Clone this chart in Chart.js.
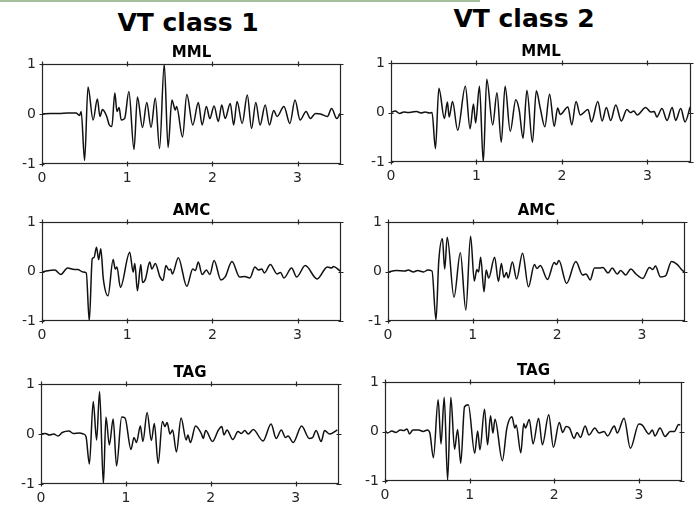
<!DOCTYPE html>
<html lang="en">
<head>
  <meta charset="UTF-8">
  <title>VT class 1 / VT class 2</title>
  <script src="https://cdn.jsdelivr.net/npm/chart.js"></script>
  <style>
    body { margin: 0; background: #fff; width: 699px; height: 508px; overflow: hidden; position: relative; font-family: "DejaVu Sans", sans-serif; }
    .topbar { position: absolute; left: 0; top: 0; width: 480px; height: 2px; background: #a5bf9b; }
    .col-title { position: absolute; font-size: 25px; font-weight: bold; line-height: 1; color: #000; white-space: nowrap; transform: translateX(-50%); }
    canvas { position: absolute; }
  </style>
</head>
<body>
  <div class="topbar"></div>
  <div class="col-title" id="title1" style="left:188px; top:10px;"></div>
  <div class="col-title" id="title2" style="left:524px; top:6px;"></div>

  <canvas id="p1" width="349" height="148" style="left:0px; top:40px;"></canvas>
  <canvas id="p2" width="350" height="147" style="left:349px; top:39px;"></canvas>
  <canvas id="p3" width="349" height="147" style="left:0px; top:198px;"></canvas>
  <canvas id="p4" width="347" height="147" style="left:346px; top:198px;"></canvas>
  <canvas id="p5" width="348" height="148" style="left:-1px; top:360px;"></canvas>
  <canvas id="p6" width="347" height="147" style="left:343px; top:358px;"></canvas>

  <script>
    // titles and ticks
    const classTitles = ['VT class 1', 'VT class 2'];
    const stations = ['MML', 'AMC', 'TAG'];
    const xTickValues = [0, 1, 2, 3];
    const yTickValues = [-1, 0, 1];
    const xMax = 3.51;

    // waveforms (time in s, normalised amplitude)
    const mmlT1 = [0, 0.1, 0.2, 0.3, 0.4, 0.44, 0.46, 0.50, 0.54, 0.60, 0.65, 0.68, 0.71, 0.76, 0.79, 0.82, 0.855, 0.88, 0.905, 0.93, 0.97, 1.02, 1.08, 1.12, 1.18, 1.23, 1.28, 1.33, 1.38, 1.435, 1.48, 1.525, 1.565, 1.58, 1.65, 1.70, 1.77, 1.835, 1.88, 1.93, 1.97, 2.02, 2.07, 2.11, 2.15, 2.21, 2.25, 2.29, 2.35, 2.41, 2.46, 2.51, 2.56, 2.62, 2.67, 2.72, 2.76, 2.84, 2.91, 2.97, 3.03, 3.10, 3.15, 3.21, 3.27, 3.35, 3.40, 3.46, 3.50];
    const mmlA1 = [0, 0.01, 0.01, 0.02, 0.02, -0.03, 0.05, -0.93, 0.54, -0.12, 0.30, -0.05, 0.09, -0.05, -0.22, -0.25, 0.42, 0.05, 0.13, -0.12, -0.09, 0.45, -0.71, 0.34, -0.27, 0.23, -0.27, 0.32, -0.69, 1.0, -0.67, 0.28, 0.08, 0.15, -0.46, 0.39, -0.22, 0.23, -0.22, 0.15, -0.09, 0.16, -0.15, 0.18, -0.09, 0.21, -0.22, 0.25, -0.19, 0.38, -0.29, 0.23, -0.22, 0.18, -0.22, 0.07, -0.05, 0.15, -0.19, 0.28, -0.12, 0.05, -0.09, 0.01, 0, -0.05, 0.11, -0.09, 0.01];

    const mmlT2 = [0, 0.05, 0.1, 0.15, 0.2, 0.25, 0.3, 0.35, 0.4, 0.45, 0.48, 0.52, 0.56, 0.625, 0.66, 0.68, 0.72, 0.78, 0.87, 0.925, 0.965, 0.99, 1.035, 1.08, 1.12, 1.19, 1.24, 1.29, 1.335, 1.395, 1.46, 1.5, 1.545, 1.59, 1.655, 1.70, 1.745, 1.80, 1.855, 1.91, 1.95, 1.98, 2.07, 2.115, 2.165, 2.215, 2.305, 2.345, 2.42, 2.47, 2.52, 2.57, 2.63, 2.695, 2.76, 2.80, 2.84, 2.88, 2.98, 3.04, 3.08, 3.11, 3.17, 3.23, 3.29, 3.33, 3.39, 3.44, 3.50];
    const mmlA2 = [0, 0.03, -0.02, 0.01, 0, 0.01, 0.02, -0.01, 0.01, -0.01, 0, -0.73, 0.49, -0.12, 0.21, -0.09, 0.22, -0.36, 0.53, -0.33, 0.17, -0.21, 0.53, -1.0, 0.67, -0.25, 0.40, -0.60, 0.53, -0.38, 0.26, 0.05, -0.52, 0.45, -0.60, 0.44, 0.10, -0.29, 0.37, -0.28, 0.09, -0.04, 0.11, -0.25, 0.22, -0.05, 0.06, -0.19, 0.22, -0.17, 0.10, -0.16, 0.15, -0.17, 0.06, 0.0, 0.03, -0.05, 0.10, 0.01, 0.02, -0.09, 0.08, -0.16, 0.10, -0.16, 0.08, -0.19, 0.11];

    const amcT1 = [0, 0.05, 0.15, 0.22, 0.3, 0.38, 0.42, 0.48, 0.52, 0.555, 0.59, 0.61, 0.64, 0.665, 0.69, 0.72, 0.775, 0.835, 0.86, 0.88, 0.92, 1.03, 1.07, 1.09, 1.12, 1.16, 1.18, 1.215, 1.265, 1.29, 1.33, 1.385, 1.42, 1.455, 1.49, 1.51, 1.53, 1.60, 1.70, 1.77, 1.80, 1.835, 1.88, 1.93, 1.97, 2.02, 2.10, 2.15, 2.23, 2.32, 2.38, 2.44, 2.50, 2.54, 2.58, 2.61, 2.68, 2.76, 2.80, 2.84, 2.93, 2.99, 3.09, 3.23, 3.35, 3.40, 3.42, 3.50];
    const amcA1 = [-0.01, 0.01, 0.03, -0.06, 0.07, 0.04, 0.04, -0.01, -0.03, -1.0, 0.26, 0.28, 0.49, 0.24, 0.46, -0.15, -0.49, 0.24, 0.05, 0.09, -0.32, 0.39, -0.01, 0.16, -0.39, 0.14, -0.22, -0.15, 0.19, 0.05, 0.16, -0.11, -0.18, 0.12, 0.03, 0.05, -0.05, 0.28, -0.30, 0.05, 0.02, 0.19, -0.06, 0.03, -0.06, 0.22, -0.17, -0.11, 0.20, -0.11, -0.10, -0.13, 0.09, 0.03, 0.05, -0.03, 0.14, -0.05, -0.02, -0.13, 0.07, -0.11, 0.12, -0.15, 0.09, 0.07, 0.10, 0.01];

    const amcT2 = [0, 0.03, 0.1, 0.2, 0.24, 0.3, 0.35, 0.42, 0.47, 0.52, 0.567, 0.60, 0.643, 0.67, 0.70, 0.78, 0.855, 0.92, 0.976, 1.02, 1.05, 1.07, 1.095, 1.135, 1.16, 1.19, 1.26, 1.305, 1.34, 1.37, 1.40, 1.42, 1.47, 1.52, 1.59, 1.66, 1.73, 1.76, 1.80, 1.885, 1.965, 1.99, 2.02, 2.11, 2.22, 2.30, 2.34, 2.39, 2.44, 2.50, 2.54, 2.60, 2.65, 2.71, 2.75, 2.81, 2.87, 2.93, 3.01, 3.09, 3.13, 3.16, 3.22, 3.28, 3.35, 3.42, 3.48, 3.50];
    const amcA2 = [-0.02, 0.0, 0.02, 0.01, 0.03, -0.01, 0.02, -0.01, 0.03, 0.01, -0.98, 0.21, 0.66, 0.05, 0.69, -0.52, 0.38, -0.78, 0.71, -0.19, 0.04, -0.01, 0.29, -0.41, 0.03, -0.13, 0.29, -0.20, 0.16, -0.12, -0.02, -0.13, 0.19, -0.15, 0.37, -0.31, 0.14, 0.06, 0.12, -0.16, 0.18, 0.14, 0.22, -0.24, 0.20, -0.07, -0.05, -0.17, 0.07, 0.07, 0.08, -0.03, 0.07, -0.05, 0.02, -0.07, 0.05, -0.05, -0.14, 0.08, 0.04, 0.11, -0.11, -0.09, 0.20, 0.14, 0.02, 0.0];

    const tagT1 = [0, 0.05, 0.1, 0.15, 0.2, 0.25, 0.33, 0.38, 0.45, 0.5, 0.53, 0.57, 0.615, 0.655, 0.69, 0.735, 0.765, 0.805, 0.85, 0.89, 0.95, 0.99, 1.06, 1.095, 1.125, 1.17, 1.20, 1.25, 1.30, 1.335, 1.38, 1.43, 1.46, 1.485, 1.52, 1.55, 1.595, 1.65, 1.71, 1.73, 1.76, 1.82, 1.89, 1.91, 1.94, 2.02, 2.09, 2.13, 2.155, 2.19, 2.26, 2.32, 2.36, 2.40, 2.44, 2.50, 2.615, 2.71, 2.77, 2.83, 2.88, 2.91, 2.97, 3.07, 3.16, 3.20, 3.24, 3.30, 3.34, 3.40, 3.49];
    const tagA1 = [0.0, 0.01, -0.02, 0.0, -0.04, 0.03, 0.06, 0.01, 0.02, 0.0, -0.05, -0.60, 0.65, -0.12, 0.85, -1.0, 0.34, -0.22, 0.30, -0.64, 0.34, 0.32, -0.31, -0.07, -0.17, 0.16, -0.15, 0.43, -0.13, 0.21, -0.59, 0.25, 0.15, 0.23, 0.0, 0.08, -0.36, 0.32, -0.12, -0.02, -0.17, 0.16, 0.0, -0.09, 0.07, -0.15, 0.08, 0.15, -0.02, 0.08, -0.11, 0.05, 0.01, 0.07, 0.0, 0.09, -0.14, 0.20, -0.09, 0.08, -0.07, -0.04, -0.17, 0.16, -0.09, -0.07, 0.07, -0.15, 0.07, 0.0, 0.08];

    const tagT2 = [0, 0.03, 0.08, 0.13, 0.18, 0.22, 0.26, 0.29, 0.33, 0.4, 0.45, 0.5, 0.53, 0.572, 0.628, 0.662, 0.70, 0.74, 0.778, 0.822, 0.858, 0.895, 0.94, 0.985, 1.06, 1.095, 1.122, 1.176, 1.212, 1.247, 1.275, 1.30, 1.387, 1.44, 1.50, 1.535, 1.55, 1.605, 1.64, 1.66, 1.705, 1.75, 1.815, 1.86, 1.935, 1.99, 2.06, 2.10, 2.14, 2.18, 2.235, 2.27, 2.31, 2.365, 2.41, 2.48, 2.53, 2.59, 2.63, 2.71, 2.745, 2.825, 2.90, 3.0, 3.04, 3.12, 3.16, 3.19, 3.25, 3.31, 3.37, 3.42, 3.47, 3.49];
    const tagA2 = [0.02, -0.03, 0.01, -0.02, 0.03, 0.02, 0.05, -0.05, 0.03, 0.03, 0.0, 0.03, -0.03, -0.53, 0.64, -0.25, 0.69, -0.98, 0.69, -0.36, 0.04, -0.64, 0.50, 0.54, -0.44, 0.01, -0.37, 0.45, -0.27, 0.32, -0.03, 0.25, -0.59, 0.07, 0.30, 0.07, 0.13, -0.43, 0.16, 0.07, 0.24, -0.25, 0.27, -0.27, 0.34, -0.32, 0.18, -0.02, 0.10, 0.07, -0.14, -0.02, -0.12, 0.11, -0.07, 0.07, -0.03, 0.0, -0.09, 0.11, -0.03, 0.27, -0.34, 0.15, 0.13, -0.05, 0.03, -0.09, 0.07, -0.10, 0.0, 0.0, 0.14, 0.13];

    document.getElementById('title1').textContent = classTitles[0];
    document.getElementById('title2').textContent = classTitles[1];

    const tickFont = { family: 'DejaVu Sans', size: 14 };
    const axisColor = '#262626';

    // box around the plot area with small ticks on all four sides
    const boxPlugin = {
      id: 'box',
      afterDraw(chart) {
        const { ctx, chartArea: a, scales } = chart;
        const L = Math.round(a.left) + 0.5, R = Math.round(a.right) - 0.5;
        const T = Math.round(a.top) + 0.5, B = Math.round(a.bottom) - 0.5;
        ctx.save();
        ctx.strokeStyle = axisColor;
        ctx.lineWidth = 1.2;
        ctx.strokeRect(L, T, R - L, B - T);
        ctx.beginPath();
        scales.x.ticks.forEach(t => {
          const px = Math.round(scales.x.getPixelForValue(t.value)) + 0.5;
          ctx.moveTo(px, T - 3); ctx.lineTo(px, T + 2);
          ctx.moveTo(px, B - 2); ctx.lineTo(px, B + 3);
        });
        scales.y.ticks.forEach(t => {
          const py = Math.round(scales.y.getPixelForValue(t.value)) + 0.5;
          ctx.moveTo(L - 3, py); ctx.lineTo(L + 2, py);
          ctx.moveTo(R - 2, py); ctx.lineTo(R + 3, py);
        });
        ctx.stroke();
        ctx.restore();
      }
    };

    function makePanel(id, title, times, amps) {
      const pts = times.map((t, i) => ({ x: t, y: amps[i] }));
      new Chart(document.getElementById(id), {
        type: 'line',
        data: {
          datasets: [{
            data: pts,
            borderColor: '#111',
            borderWidth: 1.5,
            pointRadius: 0,
            cubicInterpolationMode: 'monotone',
            fill: false
          }]
        },
        options: {
          responsive: false,
          animation: false,
          events: [],
          layout: { padding: { left: 0, right: 8, top: 0, bottom: 0 } },
          plugins: {
            legend: { display: false },
            tooltip: { enabled: false },
            title: {
              display: true,
              text: title,
              fullSize: false,
              color: '#000',
              font: { family: 'DejaVu Sans', size: 15, weight: 'bold', lineHeight: 1.2 },
              padding: { top: 4, bottom: 2 }
            }
          },
          scales: {
            x: {
              type: 'linear',
              min: 0,
              max: xMax,
              afterBuildTicks: s => { s.ticks = xTickValues.map(v => ({ value: v })); },
              afterFit: s => { s.height = 24; },
              grid: { display: false, drawTicks: false },
              border: { display: false },
              ticks: { font: tickFont, color: axisColor, padding: 6, maxRotation: 0, autoSkip: false }
            },
            y: {
              min: -1,
              max: 1,
              afterBuildTicks: s => { s.ticks = yTickValues.map(v => ({ value: v })); },
              afterFit: s => { s.width = 42; },
              grid: { display: false, drawTicks: false },
              border: { display: false },
              ticks: { font: tickFont, color: axisColor, padding: 6 }
            }
          }
        },
        plugins: [boxPlugin]
      });
    }

    makePanel('p1', stations[0], mmlT1, mmlA1);
    makePanel('p2', stations[0], mmlT2, mmlA2);
    makePanel('p3', stations[1], amcT1, amcA1);
    makePanel('p4', stations[1], amcT2, amcA2);
    makePanel('p5', stations[2], tagT1, tagA1);
    makePanel('p6', stations[2], tagT2, tagA2);
  </script>
</body>
</html>
